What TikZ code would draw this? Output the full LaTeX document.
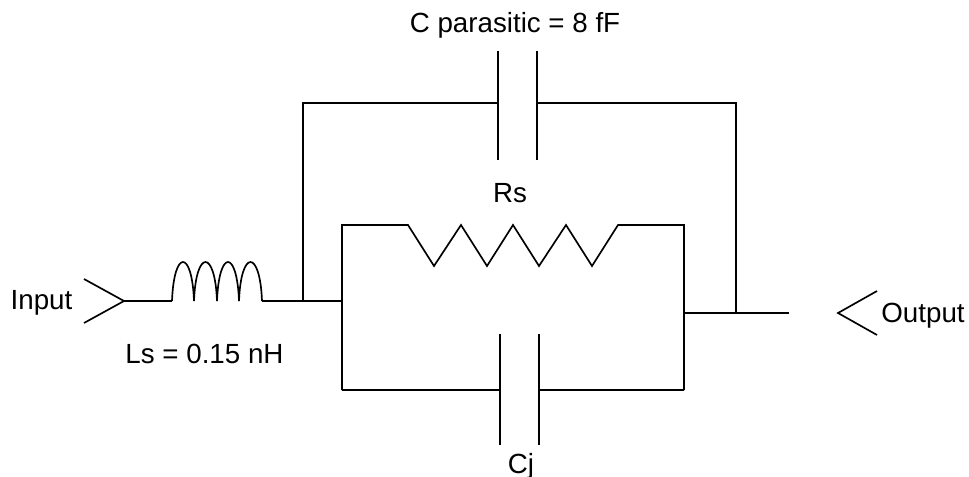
\documentclass[tikz,border=0pt]{standalone}
\usepackage{fontspec}
\setmainfont{Liberation Sans}
\usetikzlibrary{calc}
\tikzset{
    wire/.style={draw=black, line width=1.25pt, line join=miter},
    plate/.style={draw=black, line width=1.25pt},
    lbl/.style={anchor=base, inner sep=0pt, text=black, font=\fontsize{20.8}{25}\selectfont}
}
\begin{document}
\begin{tikzpicture}[x=0.75pt, y=-0.75pt]
            \useasboundingbox (0,0) rectangle (969,477);
            \coordinate (intop) at ( 84, 279);
            \coordinate (intip) at (124, 301);
            \coordinate (inbot) at ( 84, 323);
            \coordinate (coila) at (172, 301);
            \coordinate (coilb) at (194, 301);
            \coordinate (coilc) at (217, 301);
            \coordinate (coild) at (239, 301);
            \coordinate (coile) at (262, 301);
            \coordinate (tap)   at (303, 301);
            \coordinate (left)  at (342, 301);
            \coordinate (right) at (684, 313);
            \coordinate (join)  at (736, 313);
            \coordinate (outend) at (789, 313);
            \coordinate (toptapl) at (303, 103);
            \coordinate (toptapr) at (736, 103);
            \coordinate (cpa) at (498, 103);
            \coordinate (cpb) at (537, 103);
            \coordinate (rsl) at (342, 225);
            \coordinate (rsr) at (684, 225);
            \coordinate (cjl) at (342, 390);
            \coordinate (cjr) at (684, 390);
            \coordinate (cja) at (500, 390);
            \coordinate (cjb) at (539, 390);
            \coordinate (outtop) at (877, 291);
            \coordinate (outtip) at (838, 313);
            \coordinate (outbot) at (877, 335);

            \draw[wire] (intop) -- (intip) -- (inbot);
            \draw[wire] (intip) -- (coila);
            \draw[wire] (coila) .. controls +(2,-52) and +(-2,-52) .. (coilb)
                                .. controls +(2,-52) and +(-2,-52) .. (coilc)
                                .. controls +(2,-52) and +(-2,-52) .. (coild)
                                .. controls +(2,-52) and +(-2,-52) .. (coile);
            \draw[wire] (coile) -- (tap) -- (left);
            \draw[wire] (tap) -- (toptapl) -- (cpa);
            \draw[wire] (cpb) -- (toptapr) -- (join);
            \draw[plate] (498, 51) -- (498, 160);
            \draw[plate] (537, 51) -- (537, 160);
            \draw[wire] (cjl) -- (rsl) -- (408, 225) -- (434, 266) -- (461, 225) -- (487, 266)
                        -- (513, 225) -- (539, 266) -- (566, 225) -- (592, 266) -- (618, 225)
                        -- (rsr) -- (cjr);
            \draw[wire] (cjl) -- (cja);
            \draw[wire] (cjb) -- (cjr);
            \draw[plate] (500, 334) -- (500, 445);
            \draw[plate] (539, 334) -- (539, 445);
            \draw[wire] (right) -- (join) -- (outend);
            \draw[wire] (outtop) -- (outtip) -- (outbot);

            \node[lbl] (inputlbl)  at ( 41.5, 309) {Input};
            \node[lbl] (lslbl)     at (204.5, 363) {Ls = 0.15 nH};
            \node[lbl] (cparlbl)   at (515, 33)  {C parasitic = 8 fF};
            \node[lbl] (rslbl)     at (510, 202) {Rs};
            \node[lbl] (cjlbl)     at (521, 473) {Cj};
            \node[lbl] (outputlbl) at (923, 322) {Output};
        \end{tikzpicture}
\end{document}
